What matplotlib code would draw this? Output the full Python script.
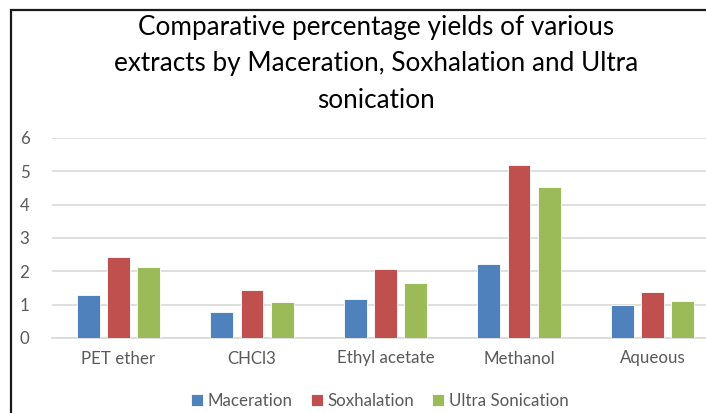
"""Comparative percentage yields of extracts by three extraction methods."""

import matplotlib

matplotlib.use("Agg")
import matplotlib.pyplot as plt
import numpy as np
from matplotlib.patches import Rectangle

categories = ["PET ether", "CHCl3", "Ethyl acetate", "Methanol", "Aqueous"]
maceration = [1.28, 0.78, 1.16, 2.23, 1.00]
soxhalation = [2.44, 1.45, 2.08, 5.18, 1.39]
ultra_sonication = [2.14, 1.07, 1.65, 4.54, 1.10]
series_names = ["Maceration", "Soxhalation", "Ultra Sonication"]
y_ticks = [0, 1, 2, 3, 4, 5, 6]

colors = ["#4F81BD", "#C0504D", "#9BBB59"]
plt.rcParams["font.family"] = ["Lato", "DejaVu Sans"]

W, H = 706, 413
fig = plt.figure(figsize=(W / 100, H / 100), dpi=100)
ax = fig.add_axes([51.75 / W, (H - 338) / H, 667.5 / W, 200 / H])

x = np.arange(len(categories))
bar_w = 0.172
offset = 0.225
for i, (vals, name) in enumerate(zip([maceration, soxhalation, ultra_sonication], series_names)):
    ax.bar(x + (i - 1) * offset, vals, width=bar_w, color=colors[i], label=name,
           edgecolor="white", linewidth=0.6, zorder=3)

ax.set_xlim(-0.5, len(categories) - 0.5)
ax.set_ylim(0, 6)
ax.set_yticks(y_ticks)
ax.set_xticks(x)
ax.set_xticklabels(categories)
ax.yaxis.grid(True, color="#D9D9D9", linewidth=1.2, zorder=0)
ax.tick_params(axis="both", length=0, colors="#595959", labelsize=12.2)
ax.tick_params(axis="y", pad=16)
ax.tick_params(axis="x", pad=9)
for side in ["top", "right", "left"]:
    ax.spines[side].set_visible(False)
ax.spines["bottom"].set_color("#D9D9D9")
ax.spines["bottom"].set_linewidth(1.2)

fig.text(376 / W, 1 - 64 / H,
         "Comparative percentage yields of various\n"
         "extracts by Maceration, Soxhalation and Ultra\n"
         "sonication",
         ha="center", va="center", fontsize=18.8, color="black", linespacing=1.55)

leg = fig.legend(loc="center", bbox_to_anchor=(380 / W, 1 - 401 / H), ncol=3,
                 frameon=False, fontsize=12.2, handlelength=0.7, handleheight=0.7,
                 handletextpad=0.3, columnspacing=1.05)
for t in leg.get_texts():
    t.set_color("#595959")

fig.patches.append(Rectangle((10.5 / W, -0.1), 1.2, (H - 9.5) / H + 0.1,
                             transform=fig.transFigure, fill=False,
                             edgecolor="#1a1a1a", linewidth=1.6))

fig.savefig("out.png", dpi=100)
